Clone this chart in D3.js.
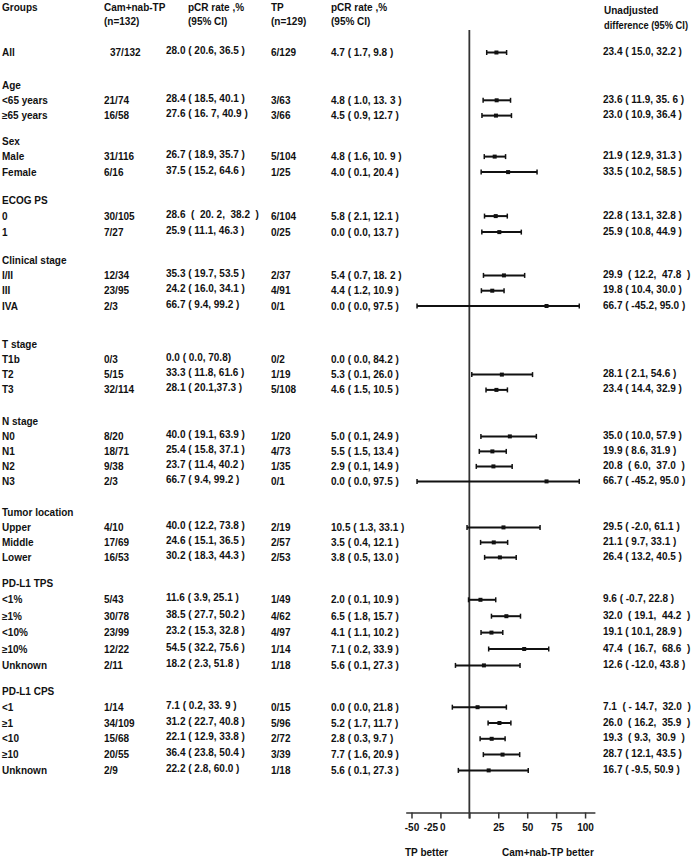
<!DOCTYPE html>
<html>
<head>
<meta charset="utf-8">
<script src="https://cdnjs.cloudflare.com/ajax/libs/d3/7.8.5/d3.min.js"></script>
<style>
  body { margin: 0; background: #fff; }
  text {
    font-family: "Liberation Sans", Arial, sans-serif;
    font-weight: bold;
    font-size: 10px;
    fill: #111;
    white-space: pre;
  }
</style>
</head>
<body>
<div class="chart"></div>
<script>
// group headers and their subgroups (first block "All" has no header)
var groupHeaders = [null, "Age", "Sex", "ECOG PS", "Clinical stage", "T stage",
  "N stage", "Tumor location", "PD-L1 TPS", "PD-L1 CPS"];
var groupSizes = [1, 2, 2, 2, 3, 3, 4, 3, 5, 5];

var subgroups = ["All", "<65 years", "≥65 years", "Male", "Female", "0", "1",
  "I/II", "III", "IVA", "T1b", "T2", "T3", "N0", "N1", "N2", "N3",
  "Upper", "Middle", "Lower", "<1%", "≥1%", "<10%", "≥10%", "Unknown",
  "<1", "≥1", "<10", "≥10", "Unknown"];

var camN = ["37/132", "21/74", "16/58", "31/116", "6/16", "30/105", "7/27",
  "12/34", "23/95", "2/3", "0/3", "5/15", "32/114", "8/20", "18/71", "9/38", "2/3",
  "4/10", "17/69", "16/53", "5/43", "30/78", "23/99", "12/22", "2/11",
  "1/14", "34/109", "15/68", "20/55", "2/9"];

var camRate = ["28.0 ( 20.6, 36.5 )", "28.4 ( 18.5, 40.1 )", "27.6 ( 16. 7, 40.9 )",
  "26.7 ( 18.9, 35.7 )", "37.5 ( 15.2, 64.6 )", "28.6  (  20. 2,  38.2  )",
  "25.9 ( 11.1, 46.3 )", "35.3 ( 19.7, 53.5 )", "24.2 ( 16.0, 34.1 )",
  "66.7 ( 9.4, 99.2 )", "0.0 ( 0.0, 70.8)", "33.3 ( 11.8, 61.6 )",
  "28.1 ( 20.1,37.3 )", "40.0 ( 19.1, 63.9 )", "25.4 ( 15.8, 37.1 )",
  "23.7 ( 11.4, 40.2 )", "66.7 ( 9.4, 99.2 )", "40.0 ( 12.2, 73.8 )",
  "24.6 ( 15.1, 36.5 )", "30.2 ( 18.3, 44.3 )", "11.6 ( 3.9, 25.1 )",
  "38.5 ( 27.7, 50.2 )", "23.2 ( 15.3, 32.8 )", "54.5 ( 32.2, 75.6 )",
  "18.2 ( 2.3, 51.8 )", "7.1 ( 0.2, 33. 9 )", "31.2 ( 22.7, 40.8 )",
  "22.1 ( 12.9, 33.8 )", "36.4 ( 23.8, 50.4 )", "22.2 ( 2.8, 60.0 )"];

var tpN = ["6/129", "3/63", "3/66", "5/104", "1/25", "6/104", "0/25",
  "2/37", "4/91", "0/1", "0/2", "1/19", "5/108", "1/20", "4/73", "1/35", "0/1",
  "2/19", "2/57", "2/53", "1/49", "4/62", "4/97", "1/14", "1/18",
  "0/15", "5/96", "2/72", "3/39", "1/18"];

var tpRate = ["4.7 ( 1.7, 9.8 )", "4.8 ( 1.0, 13. 3 )", "4.5 ( 0.9, 12.7 )",
  "4.8 ( 1.6, 10. 9 )", "4.0 ( 0.1, 20.4 )", "5.8 ( 2.1, 12.1 )",
  "0.0 ( 0.0, 13.7 )", "5.4 ( 0.7, 18. 2 )", "4.4 ( 1.2, 10.9 )",
  "0.0 ( 0.0, 97.5 )", "0.0 ( 0.0, 84.2 )", "5.3 ( 0.1, 26.0 )",
  "4.6 ( 1.5, 10.5 )", "5.0 ( 0.1, 24.9 )", "5.5 ( 1.5, 13.4 )",
  "2.9 ( 0.1, 14.9 )", "0.0 ( 0.0, 97.5 )", "10.5 ( 1.3, 33.1 )",
  "3.5 ( 0.4, 12.1 )", "3.8 ( 0.5, 13.0 )", "2.0 ( 0.1, 10.9 )",
  "6.5 ( 1.8, 15.7 )", "4.1 ( 1.1, 10.2 )", "7.1 ( 0.2, 33.9 )",
  "5.6 ( 0.1, 27.3 )", "0.0 ( 0.0, 21.8 )", "5.2 ( 1.7, 11.7 )",
  "2.8 ( 0.3, 9.7 )", "7.7 ( 1.6, 20.9 )", "5.6 ( 0.1, 27.3 )"];

// unadjusted difference and 95% CI (null = not estimable)
var diffEst = [23.4, 23.6, 23.0, 21.9, 33.5, 22.8, 25.9, 29.9, 19.8, 66.7,
  null, 28.1, 23.4, 35.0, 19.9, 20.8, 66.7, 29.5, 21.1, 26.4,
  9.6, 32.0, 19.1, 47.4, 12.6, 7.1, 26.0, 19.3, 28.7, 16.7];
var diffLo = [15.0, 11.9, 10.9, 12.9, 10.2, 13.1, 10.8, 12.2, 10.4, -45.2,
  null, 2.1, 14.4, 10.0, 8.6, 6.0, -45.2, -2.0, 9.7, 13.2,
  -0.7, 19.1, 10.1, 16.7, -12.0, -14.7, 16.2, 9.3, 12.1, -9.5];
var diffHi = [32.2, 35.6, 36.4, 31.3, 58.5, 32.8, 44.9, 47.8, 30.0, 95.0,
  null, 54.6, 32.9, 57.9, 31.9, 37.0, 95.0, 61.1, 33.1, 40.5,
  22.8, 44.2, 28.9, 68.6, 43.8, 32.0, 35.9, 30.9, 43.5, 50.9];
var diffText = ["23.4 ( 15.0, 32.2 )", "23.6 ( 11.9, 35. 6 )", "23.0 ( 10.9, 36.4 )",
  "21.9 ( 12.9, 31.3 )", "33.5 ( 10.2, 58.5 )", "22.8 ( 13.1, 32.8 )",
  "25.9 ( 10.8, 44.9 )", "29.9  ( 12.2,  47.8  )", "19.8 ( 10.4, 30.0 )",
  "66.7 ( -45.2, 95.0 )", "", "28.1 ( 2.1, 54.6 )", "23.4 ( 14.4, 32.9 )",
  "35.0 ( 10.0, 57.9 )", "19.9 ( 8.6, 31.9 )", "20.8  ( 6.0,  37.0  )",
  "66.7 ( -45.2, 95.0 )", "29.5 ( -2.0, 61.1 )", "21.1 ( 9.7, 33.1 )",
  "26.4 ( 13.2, 40.5 )", "9.6 ( -0.7, 22.8 )", "32.0  ( 19.1,  44.2  )",
  "19.1 ( 10.1, 28.9 )", "47.4  ( 16.7,  68.6  )", "12.6 ( -12.0, 43.8 )",
  "7.1  ( - 14.7,  32.0  )", "26.0  ( 16.2,  35.9  )", "19.3  ( 9.3,  30.9  )",
  "28.7 ( 12.1, 43.5 )", "16.7 ( -9.5, 50.9 )"];

var tickValues = [-50, -25, 0, 25, 50, 75, 100];

// ---- layout ----
var svgWidth = 693, svgHeight = 857;
var firstRow = 52.5;
// distance from previous row to each block header, and row pitch inside each block
var headerGap = [0, 32.5, 25.5, 28, 28, 38, 31.5, 31, 26, 26];
var groupStep = [15.5, 15.3, 15.5, 16, 15.3, 15.3, 15, 15, 16.4, 15.8];
var col = { label: 2, camN: 104, camRate: 166, tpN: 271, tpRate: 331, diff: 603 };

// build row list
var rows = [], headerRows = [];
var y = firstRow, k = 0;
groupSizes.forEach(function (n, g) {
  if (groupHeaders[g]) {
    y += headerGap[g];
    headerRows.push({ label: groupHeaders[g], y: y });
  }
  for (var i = 0; i < n; i++) {
    if (groupHeaders[g]) y += groupStep[g];
    rows.push({
      label: subgroups[k], camN: camN[k], camRate: camRate[k], tpN: tpN[k],
      tpRate: tpRate[k], est: diffEst[k], lo: diffLo[k], hi: diffHi[k],
      diffText: diffText[k], y: y
    });
    k++;
  }
});

var svg = d3.select(".chart").append("svg")
  .attr("width", svgWidth)
  .attr("height", svgHeight);

// column headers
var headers = [
  { x: col.label, y: 11, t: "Groups" },
  { x: col.camN, y: 11, t: "Cam+nab-TP" },
  { x: col.camN, y: 25, t: "(n=132)" },
  { x: 188, y: 11, t: "pCR rate ,%" },
  { x: 188, y: 25, t: "(95% CI)" },
  { x: col.tpN, y: 11, t: "TP" },
  { x: col.tpN, y: 25, t: "(n=129)" },
  { x: col.tpRate, y: 11, t: "pCR rate ,%" },
  { x: col.tpRate, y: 25, t: "(95% CI)" },
  { x: 604, y: 13.5, t: "Unadjusted" }
];
svg.selectAll("text.head").data(headers).enter().append("text")
  .attr("class", "head")
  .attr("x", d => d.x).attr("y", d => d.y)
  .text(d => d.t);

svg.append("text")
  .attr("x", 604).attr("y", 28.5)
  .attr("textLength", 84)
  .attr("lengthAdjust", "spacingAndGlyphs")
  .text("difference (95% CI)");

svg.selectAll("text.grp").data(headerRows).enter().append("text")
  .attr("class", "grp")
  .attr("x", col.label).attr("y", d => d.y).attr("dy", "0.35em")
  .text(d => d.label);

// table columns
[["label", 0], ["camN", 0], ["camRate", -2], ["tpN", 0], ["tpRate", 0], ["diffText", -1]]
  .forEach(function (c) {
    var key = c[0];
    var x = key === "diffText" ? col.diff : col[key];
    svg.selectAll("text.c-" + key).data(rows).enter().append("text")
      .attr("class", "c-" + key)
      .attr("x", (d, i) => (key === "camN" && i === 0) ? x + 6 : x)
      .attr("y", d => d.y + c[1]).attr("dy", "0.35em")
      .text(d => d[key]);
  });

// ---- forest plot ----
var xScale = d3.scaleLinear()
  .domain([-55, 108.5])
  .range([405.7, 594.9]);

var axisY = 812.5;

// zero line
svg.append("line")
  .attr("x1", xScale(0)).attr("x2", xScale(0))
  .attr("y1", 30).attr("y2", axisY + 6)
  .attr("stroke", "#333").attr("stroke-width", 1.8);

var ci = svg.append("g").selectAll("g")
  .data(rows.filter(d => d.est !== null))
  .enter().append("g");

ci.append("line")
  .attr("x1", d => xScale(d.lo)).attr("x2", d => xScale(d.hi))
  .attr("y1", d => d.y).attr("y2", d => d.y)
  .attr("stroke", "#111").attr("stroke-width", 2);

ci.append("line")
  .attr("x1", d => xScale(d.lo)).attr("x2", d => xScale(d.lo))
  .attr("y1", d => d.y - 2.5).attr("y2", d => d.y + 2.5)
  .attr("stroke", "#111").attr("stroke-width", 1.5);

ci.append("line")
  .attr("x1", d => xScale(d.hi)).attr("x2", d => xScale(d.hi))
  .attr("y1", d => d.y - 2.5).attr("y2", d => d.y + 2.5)
  .attr("stroke", "#111").attr("stroke-width", 1.5);

ci.append("rect")
  .attr("x", d => xScale(d.est) - 2).attr("y", d => d.y - 2)
  .attr("width", 4).attr("height", 4)
  .attr("fill", "#111");

// x axis
var axis = d3.axisBottom(xScale)
  .tickValues(tickValues)
  .tickSizeInner(6)
  .tickSizeOuter(0)
  .tickFormat(d => String(d));

var axisG = svg.append("g")
  .attr("transform", `translate(0, ${axisY})`)
  .call(axis);

axisG.attr("font-family", null).attr("font-size", null);
axisG.select(".domain").attr("stroke", "#333").attr("stroke-width", 1.6);
axisG.selectAll(".tick line").attr("stroke", "#333").attr("stroke-width", 1.5);
// the original figure squeezes the -25 and 0 labels towards -50
axisG.selectAll(".tick text")
  .attr("y", 11)
  .attr("dx", d => d === -25 ? -10 : d === 0 ? -27 : 0);

svg.append("text")
  .attr("x", 405).attr("y", 856)
  .text("TP better");
svg.append("text")
  .attr("x", 502).attr("y", 856)
  .text("Cam+nab-TP better");
</script>
</body>
</html>
